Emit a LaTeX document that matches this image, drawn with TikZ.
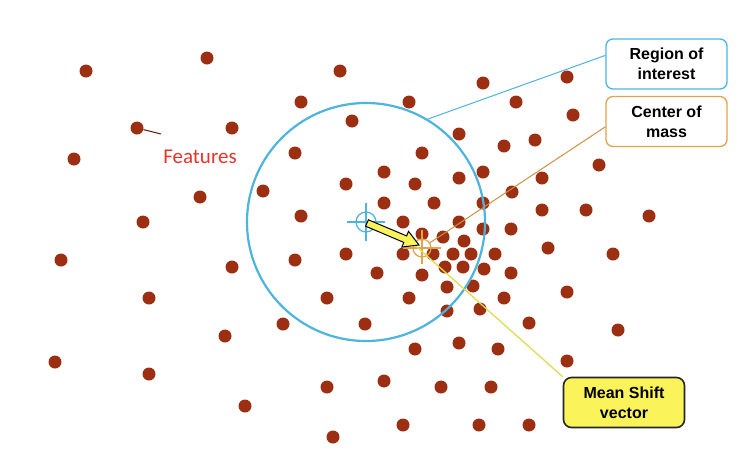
\documentclass[tikz,border=0pt]{standalone}
\usepackage{fontspec}
\setsansfont{Liberation Sans}
\newfontfamily\featfont{Carlito}
\definecolor{dotbrown}{RGB}{156,46,18}
\definecolor{roiblue}{RGB}{76,180,223}
\definecolor{comorange}{RGB}{226,162,78}
\definecolor{msyellow}{RGB}{251,243,90}
\definecolor{featred}{RGB}{230,52,42}
\begin{document}
\begin{tikzpicture}[x=1pt,y=-1pt,
  dot/.style={circle,fill=dotbrown,inner sep=0pt,minimum size=13pt},
  callout/.style={draw,rounded corners=7pt,fill=white,line width=1.3pt,minimum width=121pt,minimum height=50pt,align=center,font=\sffamily\bfseries\fontsize{16}{20}\selectfont}]
\fill[white] (0,0) rectangle (755,451);
\useasboundingbox (0,0) rectangle (755,451);
\foreach \x/\y [count=\i] in {86/71,207/58,340/71,301/102,352/121,137/128,232/128,74/159,295/153,346/184,
  263/191,200/197,301/216,143/222,61/260,232/267,295/260,346/254,377/273,149/298,
  327/298,283/324,365/324,225/336,55/362,149/374,327/387,245/406,333/437,483/83,
  567/77,409/102,516/102,573/115,459/134,504/146,535/140,422/153,599/165,384/172,
  415/184,459/178,483/172,542/178,384/203,434/203,483/203,512/192,542/210,586/210,
  649/216,403/222,459/222,483/229,511/229,422/234,443/237,464/241,548/248,403/254,
  433/254,453/254,471/254,495/254,613/254,445/267,463/267,484/269,511/273,422/275,
  447/287,473/286,567/292,409/298,504/298,447/311,480/309,529/323,618/330,415/349,
  459/343,498/349,567/361,384/381,441/387,491/387,403/425,479/425,529/425}
  \node[dot] (f\i) at (\x,\y) {};
\node[text=featred,font=\featfont\fontsize{21}{24}\selectfont] (feat) at (200,157) {Features};
\coordinate (featend) at (161,134);
\draw[dotbrown!60!black,line width=1pt] (f6) -- (featend);
\node[circle,draw=roiblue,line width=2.2pt,minimum size=238pt] (roi) at (366,222) {};
\node[circle,draw=roiblue,line width=1.2pt,minimum size=20pt] (roic) at (366,222) {};
\draw[roiblue,line width=1.2pt] (347,222) -- (385,222);
\draw[roiblue,line width=1.2pt] (366,203) -- (366,241);
\node[circle,draw=comorange,line width=1.2pt,minimum size=18pt] (com) at (422,248) {};
\draw[comorange,line width=1.2pt] (403,248) -- (441,248);
\draw[comorange,line width=1.2pt] (422,230) -- (422,264);
\node[callout,draw=roiblue] (roibox) at (666.5,64) {Region of\\interest};
\node[callout,draw=comorange] (combox) at (666.5,121.5) {Center of\\mass};
\node[callout,draw=black!85,fill=msyellow,line width=1.6pt,rounded corners=8pt] (msv) at (624,402.5) {Mean Shift\\vector};
\draw[roiblue,line width=1pt] (roi.59) -- (roibox.172);
\draw[comorange!90!black,line width=1pt] (com) -- (combox.185);
\coordinate (mshead) at (409,240);
\draw[msyellow!90!black,line width=1.3pt] (mshead) -- (msv.north west);
\filldraw[fill=msyellow,draw=black,line width=1pt,line join=miter] (365.6,226.2) -- (403.8,242.4) -- (401.9,247.0) -- (419,245) -- (408.5,231.3) -- (406.6,235.9) -- (368.4,219.8) -- cycle;
\end{tikzpicture}
\end{document}
